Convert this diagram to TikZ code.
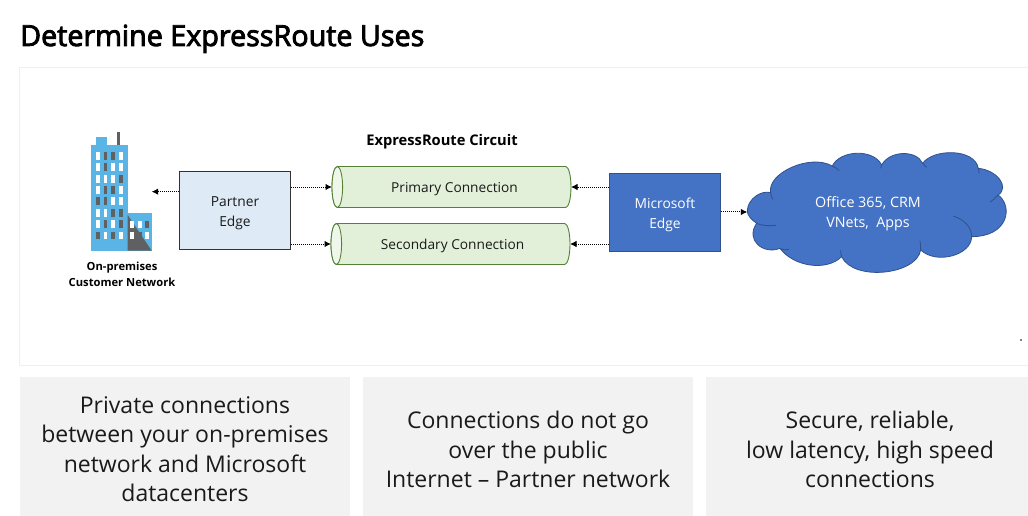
\documentclass[tikz,border=0pt]{standalone}
\usepackage{fontspec}
\setmainfont{Open Sans}
\newfontfamily\titlefont[FakeBold=3,FakeStretch=0.99]{Open Sans}
\usetikzlibrary{arrows.meta}
\definecolor{panelgray}{HTML}{F2F2F2}
\definecolor{framegray}{HTML}{EFEFEF}
\definecolor{pipefill}{HTML}{E2F0D9}
\definecolor{pipeline}{HTML}{548235}
\definecolor{pebox}{HTML}{DEEBF7}
\definecolor{msblue}{HTML}{4472C4}
\definecolor{cloudline}{HTML}{2F528F}
\definecolor{bldblue}{HTML}{5AB4E5}
\definecolor{blddark}{HTML}{5F6062}
\definecolor{inktext}{HTML}{1A1A1A}
\newcommand{\pipeshape}[1]{%
  \path[fill=pipefill,draw=pipeline,line width=0.9pt]
    ([xshift=5.3pt]#1.north west) -- ([xshift=-5.3pt]#1.north east)
    arc[start angle=90,delta angle=-180,x radius=5.3pt,y radius=20.5pt]
    -- ([xshift=5.3pt]#1.south west)
    arc[start angle=270,delta angle=-180,x radius=5.3pt,y radius=20.5pt] -- cycle;
  \path[fill=pipefill!55!white,draw=pipeline,line width=0.9pt]
    ([xshift=5.3pt]#1.west) ellipse[x radius=5.3pt,y radius=20.5pt];
}
\tikzset{
  paneltext/.style={font=\fontsize{23}{29.5}\selectfont,text=inktext,align=center,inner sep=0pt},
  difftext/.style={font=\fontsize{13.8}{20}\selectfont,align=center,inner sep=0pt},
  pipe/.style={minimum width=239pt,minimum height=41pt,inner sep=0pt,outer sep=0pt},
  pipetext/.style={inner sep=0pt,font=\fontsize{13.7}{16}\selectfont,text=inktext},
  link/.style={densely dotted,line width=1pt,-{Latex[length=6.5pt,width=6.5pt]}},
  win/.style={fill=white,draw=none},
  wind/.style={fill=blddark,draw=none}
}
\begin{document}
\begin{tikzpicture}[x=1pt,y=-1pt]
\useasboundingbox (0,0) rectangle (1028,516);
\fill[white] (0,0) rectangle (1028,516);
\node[anchor=base west,inner sep=0pt,font=\fontsize{29}{34}\selectfont\titlefont] (title) at (20,46) {Determine ExpressRoute Uses};
\draw[framegray,line width=1.5pt] (1029,67.5) -- (19.5,67.5) -- (19.5,365.5) -- (1029,365.5);
\fill[black] (1021,340) circle (0.8pt);
% panels
\fill[panelgray] (20,377) rectangle (350,516);
\fill[panelgray] (363,377) rectangle (693,516);
\fill[panelgray] (706,377) rectangle (1028,516);
\node[paneltext] (p1) at (185,449) {Private connections\\between your on-premises\\network and Microsoft\\datacenters};
\node[paneltext] (p2) at (528,449.5) {Connections do not go\\over the public\\Internet – Partner network};
\node[paneltext] (p3) at (870,449.5) {Secure, reliable,\\low latency, high speed\\connections};
% building
\begin{scope}[shift={(60,120)},x=0.3333pt,y=-0.3333pt]
\fill[blddark] (171,36) rectangle (179,76);
\fill[bldblue] (108,52) rectangle (141,76);
\fill[bldblue] (94,75) rectangle (203,392);
\fill[bldblue] (203,279) rectangle (275,392);
\fill[blddark] (203,285) -- (275,392) -- (203,392) -- cycle;
\foreach \yy/\a/\b/\c/\d in {97/win/wind/wind/win,130/win/wind/win/win,165/win/win/win/wind,198/win/wind/wind/win,232/wind/wind/win/win,267/win/win/wind/wind,301/win/wind/win/wind,335/wind/win/wind/win}{
  \fill[\a] (108,\yy) rectangle ++(11,23);
  \fill[\b] (131,\yy) rectangle ++(11,23);
  \fill[\c] (154,\yy) rectangle ++(11,23);
  \fill[\d] (177,\yy) rectangle ++(11,23);
}
\fill[win] (210,302) rectangle ++(12,23);
\fill[win] (234,302) rectangle ++(11,23);
\fill[wind] (256,302) rectangle ++(12,23);
\fill[win] (210,335) rectangle ++(12,23);
\fill[wind] (234,335) rectangle ++(11,23);
\fill[win] (256,335) rectangle ++(12,23);
\coordinate (bldg) at (275,215);
\end{scope}
\node[inner sep=0pt,align=center,font=\fontsize{11.2}{16}\selectfont\bfseries] (onprem) at (122,274) {On-premises\\Customer Network};
% boxes
\node[draw=black!80,fill=pebox,line width=0.9pt,minimum width=111pt,minimum height=78pt,inner sep=0pt] (pe) at (235,210.5) {};
\node[difftext,text=inktext] (petxt) at (235,213) {Partner\\Edge};
\node[pipe] (prim) at (451.5,187) {};
\node[pipe] (sec) at (450.5,244) {};
\pipeshape{prim}
\pipeshape{sec}
\node[pipetext] (primtxt) at (454.5,189) {Primary Connection};
\node[pipetext] (sectxt) at (452.5,246) {Secondary Connection};
\node[inner sep=0pt,font=\fontsize{14.7}{17}\selectfont\bfseries] (circ) at (442,142) {ExpressRoute Circuit};
\node[draw=cloudline,fill=msblue,line width=0.8pt,minimum width=111pt,minimum height=78pt,inner sep=0pt] (ms) at (665,212.5) {};
\node[difftext,text=white] (mstxt) at (665,215) {Microsoft\\Edge};
% cloud
\begin{scope}[shift={(600,140)},x=0.3333pt,y=-0.3333pt]
\path[fill=msblue,draw=cloudline,line width=0.8pt]
 (442,210) .. controls (445,175) and (485,150) .. (512,158)
 .. controls (500,100) and (630,40) .. (697,78)
 .. controls (720,30) and (820,25) .. (845,75)
 .. controls (870,30) and (950,30) .. (968,70)
 .. controls (1000,25) and (1125,25) .. (1135,85)
 .. controls (1190,90) and (1230,140) .. (1195,165)
 .. controls (1240,200) and (1225,290) .. (1115,290)
 .. controls (1115,345) and (1010,375) .. (962,330)
 .. controls (950,405) and (760,425) .. (725,350)
 .. controls (680,395) and (580,380) .. (540,325)
 .. controls (490,345) and (435,300) .. (470,250)
 .. controls (455,240) and (440,225) .. (442,210) -- cycle;
\draw[cloudline,line width=0.8pt]
 (470,250) .. controls (485,258) and (510,258) .. (528,256)
 (540,325) .. controls (548,330) and (558,331) .. (567,328)
 (725,350) .. controls (722,340) and (722,335) .. (722,330)
 (962,330) .. controls (962,320) and (962,310) .. (960,303)
 (1060,228) .. controls (1095,240) and (1115,262) .. (1115,290)
 (1195,165) .. controls (1188,172) and (1180,180) .. (1170,186)
 (1135,85) .. controls (1135,90) and (1136,95) .. (1138,100)
 (968,70) .. controls (970,72) and (975,78) .. (980,82)
 (845,75) .. controls (843,78) and (842,82) .. (842,85)
 (697,78) .. controls (705,82) and (712,86) .. (718,92)
 (512,158) .. controls (513,165) and (515,172) .. (518,178);
\coordinate (cloudw) at (442,216);
\end{scope}
\node[font=\fontsize{14.3}{20}\selectfont,align=center,inner sep=0pt,text=white] (cloudtxt) at (868,214) {Office 365, CRM\\VNets,\ \ Apps};
% connectors
\draw[link] (pe.west |- bldg) -- (bldg);
\draw[link] (pe.east |- prim.center) -- (prim.west);
\draw[link] (pe.east |- sec.center) -- (sec.west);
\draw[link] (ms.west |- prim.center) -- (prim.east);
\draw[link] (ms.west |- sec.center) -- (sec.east);
\draw[link] (ms.east |- cloudw) -- (cloudw);
\end{tikzpicture}
\end{document}
